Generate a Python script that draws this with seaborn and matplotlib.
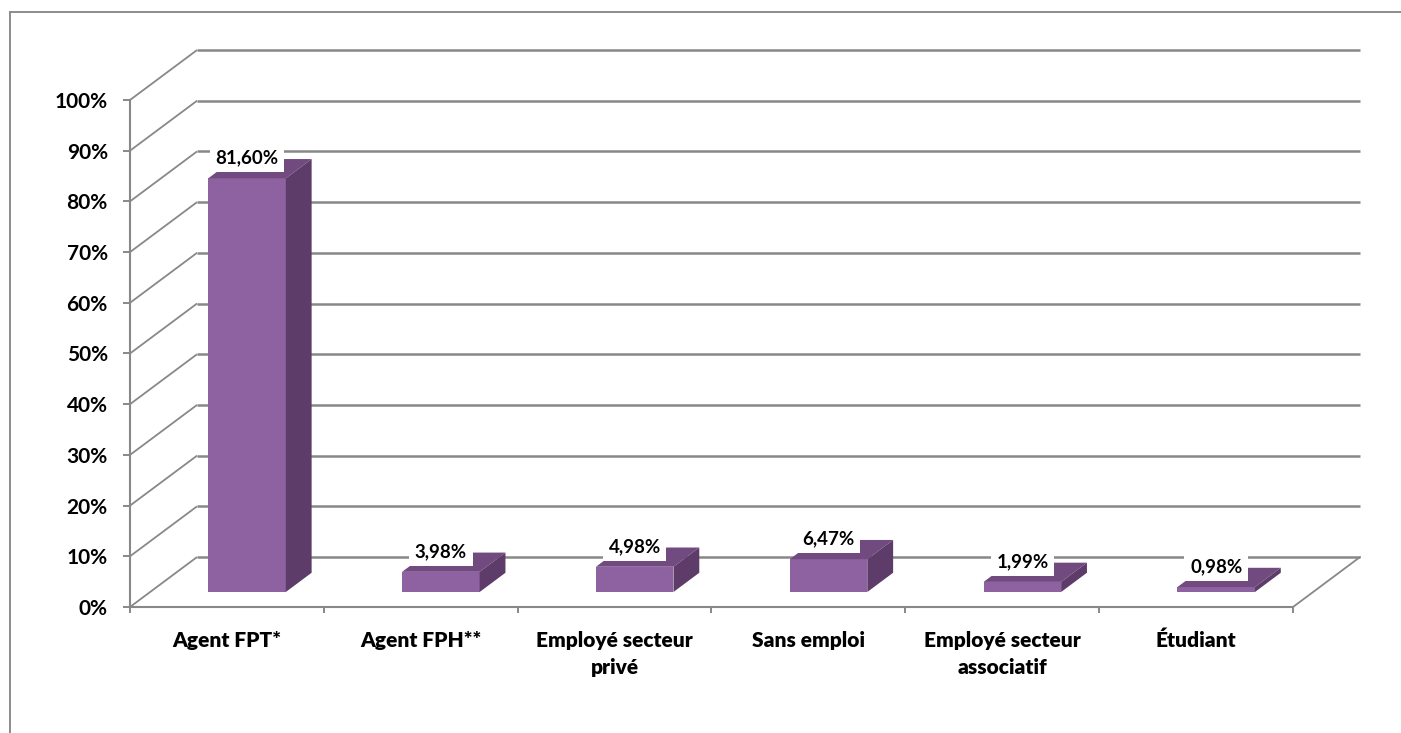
import matplotlib
matplotlib.use("Agg")
import matplotlib.pyplot as plt
from matplotlib.patches import Polygon, Rectangle
import seaborn as sns
import pandas as pd

# Répartition par situation professionnelle
categories = ["Agent FPT*", "Agent FPH**", "Employé secteur\nprivé",
              "Sans emploi", "Employé secteur\nassociatif", "Étudiant"]
values = [81.60, 3.98, 4.98, 6.47, 1.99, 0.98]
y_ticks = list(range(0, 101, 10))
y_tick_labels = [f"{t}%" for t in y_ticks]

# Style
FRONT = "#8E61A0"
TOP = "#714A80"
SIDE = "#5E3C69"
GRID = "#888888"

# Oblique projection of the 3D box (depth vector in data units)
DX, DY = 0.346, 9.86      # full depth of the floor / walls
D0, T = 0.30, 0.385       # bar front depth and bar thickness (fraction of depth)
BAR_W = 0.40

sns.set_theme(style="white")
plt.rcParams["font.family"] = ["Lato", "DejaVu Sans"]
plt.rcParams["font.weight"] = "bold"
plt.rcParams["text.color"] = "black"
plt.rcParams["xtick.color"] = "black"
plt.rcParams["ytick.color"] = "black"

W, H = 1401, 733
fig = plt.figure(figsize=(W / 100, H / 100), dpi=100)
ax = fig.add_axes([130 / W, (H - 607) / H, 1163 / W, 507 / H])

df = pd.DataFrame({"cat": categories, "val": values})
sns.barplot(data=df, x="cat", y="val", color=FRONT, saturation=1,
            width=BAR_W, linewidth=0, ax=ax)
ax.set_xlim(-0.5, len(categories) - 0.5)
ax.set_ylim(0, 100)
ax.set_xlabel("")
ax.set_ylabel("")

n = len(categories)
x_left, x_right = -0.5, n - 0.5

# Back wall, left wall and floor lines
for v in y_ticks:
    ax.plot([x_left, x_left + DX], [v, v + DY], color=GRID, lw=1.3,
            clip_on=False, zorder=1, solid_capstyle="butt")
    ax.plot([x_left + DX, x_right + DX], [v + DY, v + DY], color=GRID,
            lw=1.8, clip_on=False, zorder=1, solid_capstyle="butt")
ax.plot([x_right, x_right + DX], [0, DY], color=GRID, lw=1.3,
        clip_on=False, zorder=1)

# Turn the flat bars into 3D blocks and label them
bars = list(ax.patches)
for p, v in zip(bars, values):
    x0 = p.get_x() + D0 * DX
    y0 = D0 * DY
    w = p.get_width()
    h = p.get_height()
    p.set_x(x0)
    p.set_y(y0)
    p.set_zorder(4)
    top = [(x0, y0 + h), (x0 + w, y0 + h),
           (x0 + w + T * DX, y0 + h + T * DY), (x0 + T * DX, y0 + h + T * DY)]
    side = [(x0 + w, y0), (x0 + w + T * DX, y0 + T * DY),
            (x0 + w + T * DX, y0 + h + T * DY), (x0 + w, y0 + h)]
    ax.add_patch(Polygon(top, closed=True, fc=TOP, ec="none", zorder=4,
                         clip_on=False))
    ax.add_patch(Polygon(side, closed=True, fc=SIDE, ec="none", zorder=4,
                         clip_on=False))
    ax.annotate(f"{v:.2f}".replace(".", ",") + "%",
                xy=(x0 + w / 2, y0 + h), xytext=(0, 14.5),
                textcoords="offset points", ha="center", va="center",
                fontsize=13.5, fontweight="bold", color="black",
                bbox=dict(boxstyle="square,pad=0.3", fc="white", ec="none"),
                zorder=6, annotation_clip=False)

# Front axes
for side_name in ("top", "right"):
    ax.spines[side_name].set_visible(False)
for side_name in ("left", "bottom"):
    ax.spines[side_name].set_color(GRID)
    ax.spines[side_name].set_linewidth(1.5)
    ax.spines[side_name].set_zorder(2)

ax.set_yticks(y_ticks)
ax.set_yticklabels(y_tick_labels, fontsize=15, fontweight="bold")
ax.tick_params(axis="y", direction="out", length=5, width=1.4, color=GRID,
               pad=11, left=True)

# Category names on major ticks, category boundaries on minor ticks
ax.set_xticks(list(range(n)))
ax.set_xticklabels(categories, fontsize=15, fontweight="heavy",
                   linespacing=1.5)
ax.set_xticks([i - 0.5 for i in range(n + 1)], minor=True)
ax.tick_params(axis="x", which="major", length=0, pad=17, bottom=True)
ax.tick_params(axis="x", which="minor", direction="out", length=4.5,
               width=1.4, color=GRID, bottom=True)
ax.patch.set_alpha(0)

# Chart frame
fig.patches.append(Rectangle((9.5 / W, -0.05), 1.2, 1.05 - 11.5 / H,
                             transform=fig.transFigure, fill=False,
                             ec="#8C8C8C", lw=1.4))

fig.savefig("out.png", dpi=100)
